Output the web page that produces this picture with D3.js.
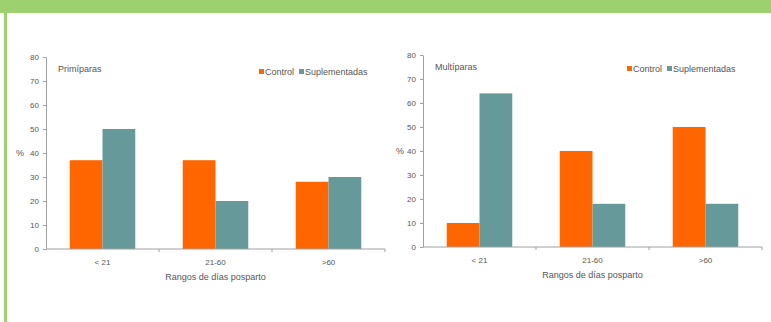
<!DOCTYPE html>
<html>
<head>
<meta charset="utf-8">
<script src="https://cdn.jsdelivr.net/npm/d3@7"></script>
<style>
  html, body { margin: 0; padding: 0; background: #fff; }
  svg { display: block; font-family: "Liberation Sans", Arial, sans-serif; }
  .axis path, .axis line { stroke: #a0a0a0; }
  .axis text { fill: #555; font-size: 8px; }
  .lbl { fill: #555; font-size: 9px; }
</style>
</head>
<body>
<div id="chart"></div>
<script>
// datos
const categories = ['< 21', '21-60', '>60'];
const seriesNames = ['Control', 'Suplementadas'];
const yTicks = [0, 10, 20, 30, 40, 50, 60, 70, 80];
const primiparasControl = [37, 37, 28];
const primiparasSuplementadas = [50, 20, 30];
const multiparasControl = [10, 40, 50];
const multiparasSuplementadas = [64, 18, 18];

const colors = { Control: '#ff6600', Suplementadas: '#669999' };
const W = 771, H = 322;

const svg = d3.select('#chart').append('svg').attr('width', W).attr('height', H);

// marco verde
svg.append('rect').attr('x', 0).attr('y', 0).attr('width', W).attr('height', 13).attr('fill', '#9dd16f');
svg.append('rect').attr('x', 4).attr('y', 0).attr('width', 3).attr('height', H).attr('fill', '#9dd16f');

function drawChart(opt) {
  const g = svg.append('g');
  const rows = categories.map((c, i) => ({
    cat: c,
    values: [
      { key: 'Control', value: opt.control[i] },
      { key: 'Suplementadas', value: opt.suplementadas[i] }
    ]
  }));

  const x0 = d3.scaleBand().domain(categories).range([opt.left, opt.right]).padding(0);
  const bw = x0.bandwidth();
  const x1 = d3.scaleBand().domain(seriesNames).range([bw * 0.21, bw * 0.79]).padding(0);
  const y = d3.scaleLinear().domain([0, 80]).range([opt.bottom, opt.top]);

  // barras
  g.selectAll('g.grp')
    .data(rows)
    .join('g')
    .attr('class', 'grp')
    .attr('transform', d => 'translate(' + x0(d.cat) + ',0)')
    .selectAll('rect')
    .data(d => d.values)
    .join('rect')
    .attr('x', d => x1(d.key))
    .attr('width', x1.bandwidth())
    .attr('y', d => y(d.value))
    .attr('height', d => y(0) - y(d.value))
    .attr('fill', d => colors[d.key]);

  // eje Y
  g.append('g')
    .attr('class', 'axis')
    .attr('transform', 'translate(' + opt.left + ',0)')
    .call(d3.axisLeft(y).tickValues(yTicks).tickSize(3).tickSizeOuter(0).tickPadding(4));

  // eje X con marcas entre grupos
  const xAxis = g.append('g')
    .attr('class', 'axis')
    .attr('transform', 'translate(0,' + opt.bottom + ')');
  xAxis.append('line')
    .attr('x1', opt.left).attr('x2', opt.right)
    .attr('y1', 0).attr('y2', 0);
  xAxis.selectAll('line.tk')
    .data(categories.slice(1).concat(['end']))
    .join('line')
    .attr('class', 'tk')
    .attr('x1', d => d === 'end' ? opt.right : x0(d))
    .attr('x2', d => d === 'end' ? opt.right : x0(d))
    .attr('y1', 0).attr('y2', 3);
  xAxis.selectAll('text')
    .data(categories)
    .join('text')
    .attr('x', d => x0(d) + bw / 2)
    .attr('y', 16)
    .attr('text-anchor', 'middle')
    .text(d => d);

  // títulos
  g.append('text').attr('class', 'lbl')
    .attr('x', x0(categories[1]) + bw / 2).attr('y', opt.bottom + 31)
    .attr('text-anchor', 'middle')
    .text('Rangos de días posparto');
  g.append('text').attr('class', 'lbl')
    .attr('x', opt.pctX).attr('y', y(40) + 3)
    .text('%');
  g.append('text').attr('class', 'lbl')
    .attr('x', opt.left + 12).attr('y', opt.titleY)
    .text(opt.title);

  // leyenda
  const leg = g.append('g').attr('transform', 'translate(' + opt.legX + ',' + opt.legY + ')');
  let lx = 0;
  seriesNames.forEach(name => {
    leg.append('rect').attr('x', lx).attr('y', -3).attr('width', 5).attr('height', 5).attr('fill', colors[name]);
    const t = leg.append('text').attr('class', 'lbl').attr('x', lx + 6).attr('y', 3).text(name);
    lx += 6 + t.node().getComputedTextLength() + 5;
  });
}

drawChart({
  title: 'Primíparas', control: primiparasControl, suplementadas: primiparasSuplementadas,
  left: 46, right: 385, top: 57, bottom: 249, pctX: 16, titleY: 72, legX: 259, legY: 72
});
drawChart({
  title: 'Multíparas', control: multiparasControl, suplementadas: multiparasSuplementadas,
  left: 423, right: 762, top: 55, bottom: 247, pctX: 396, titleY: 70, legX: 627, legY: 69
});
</script>
</body>
</html>
